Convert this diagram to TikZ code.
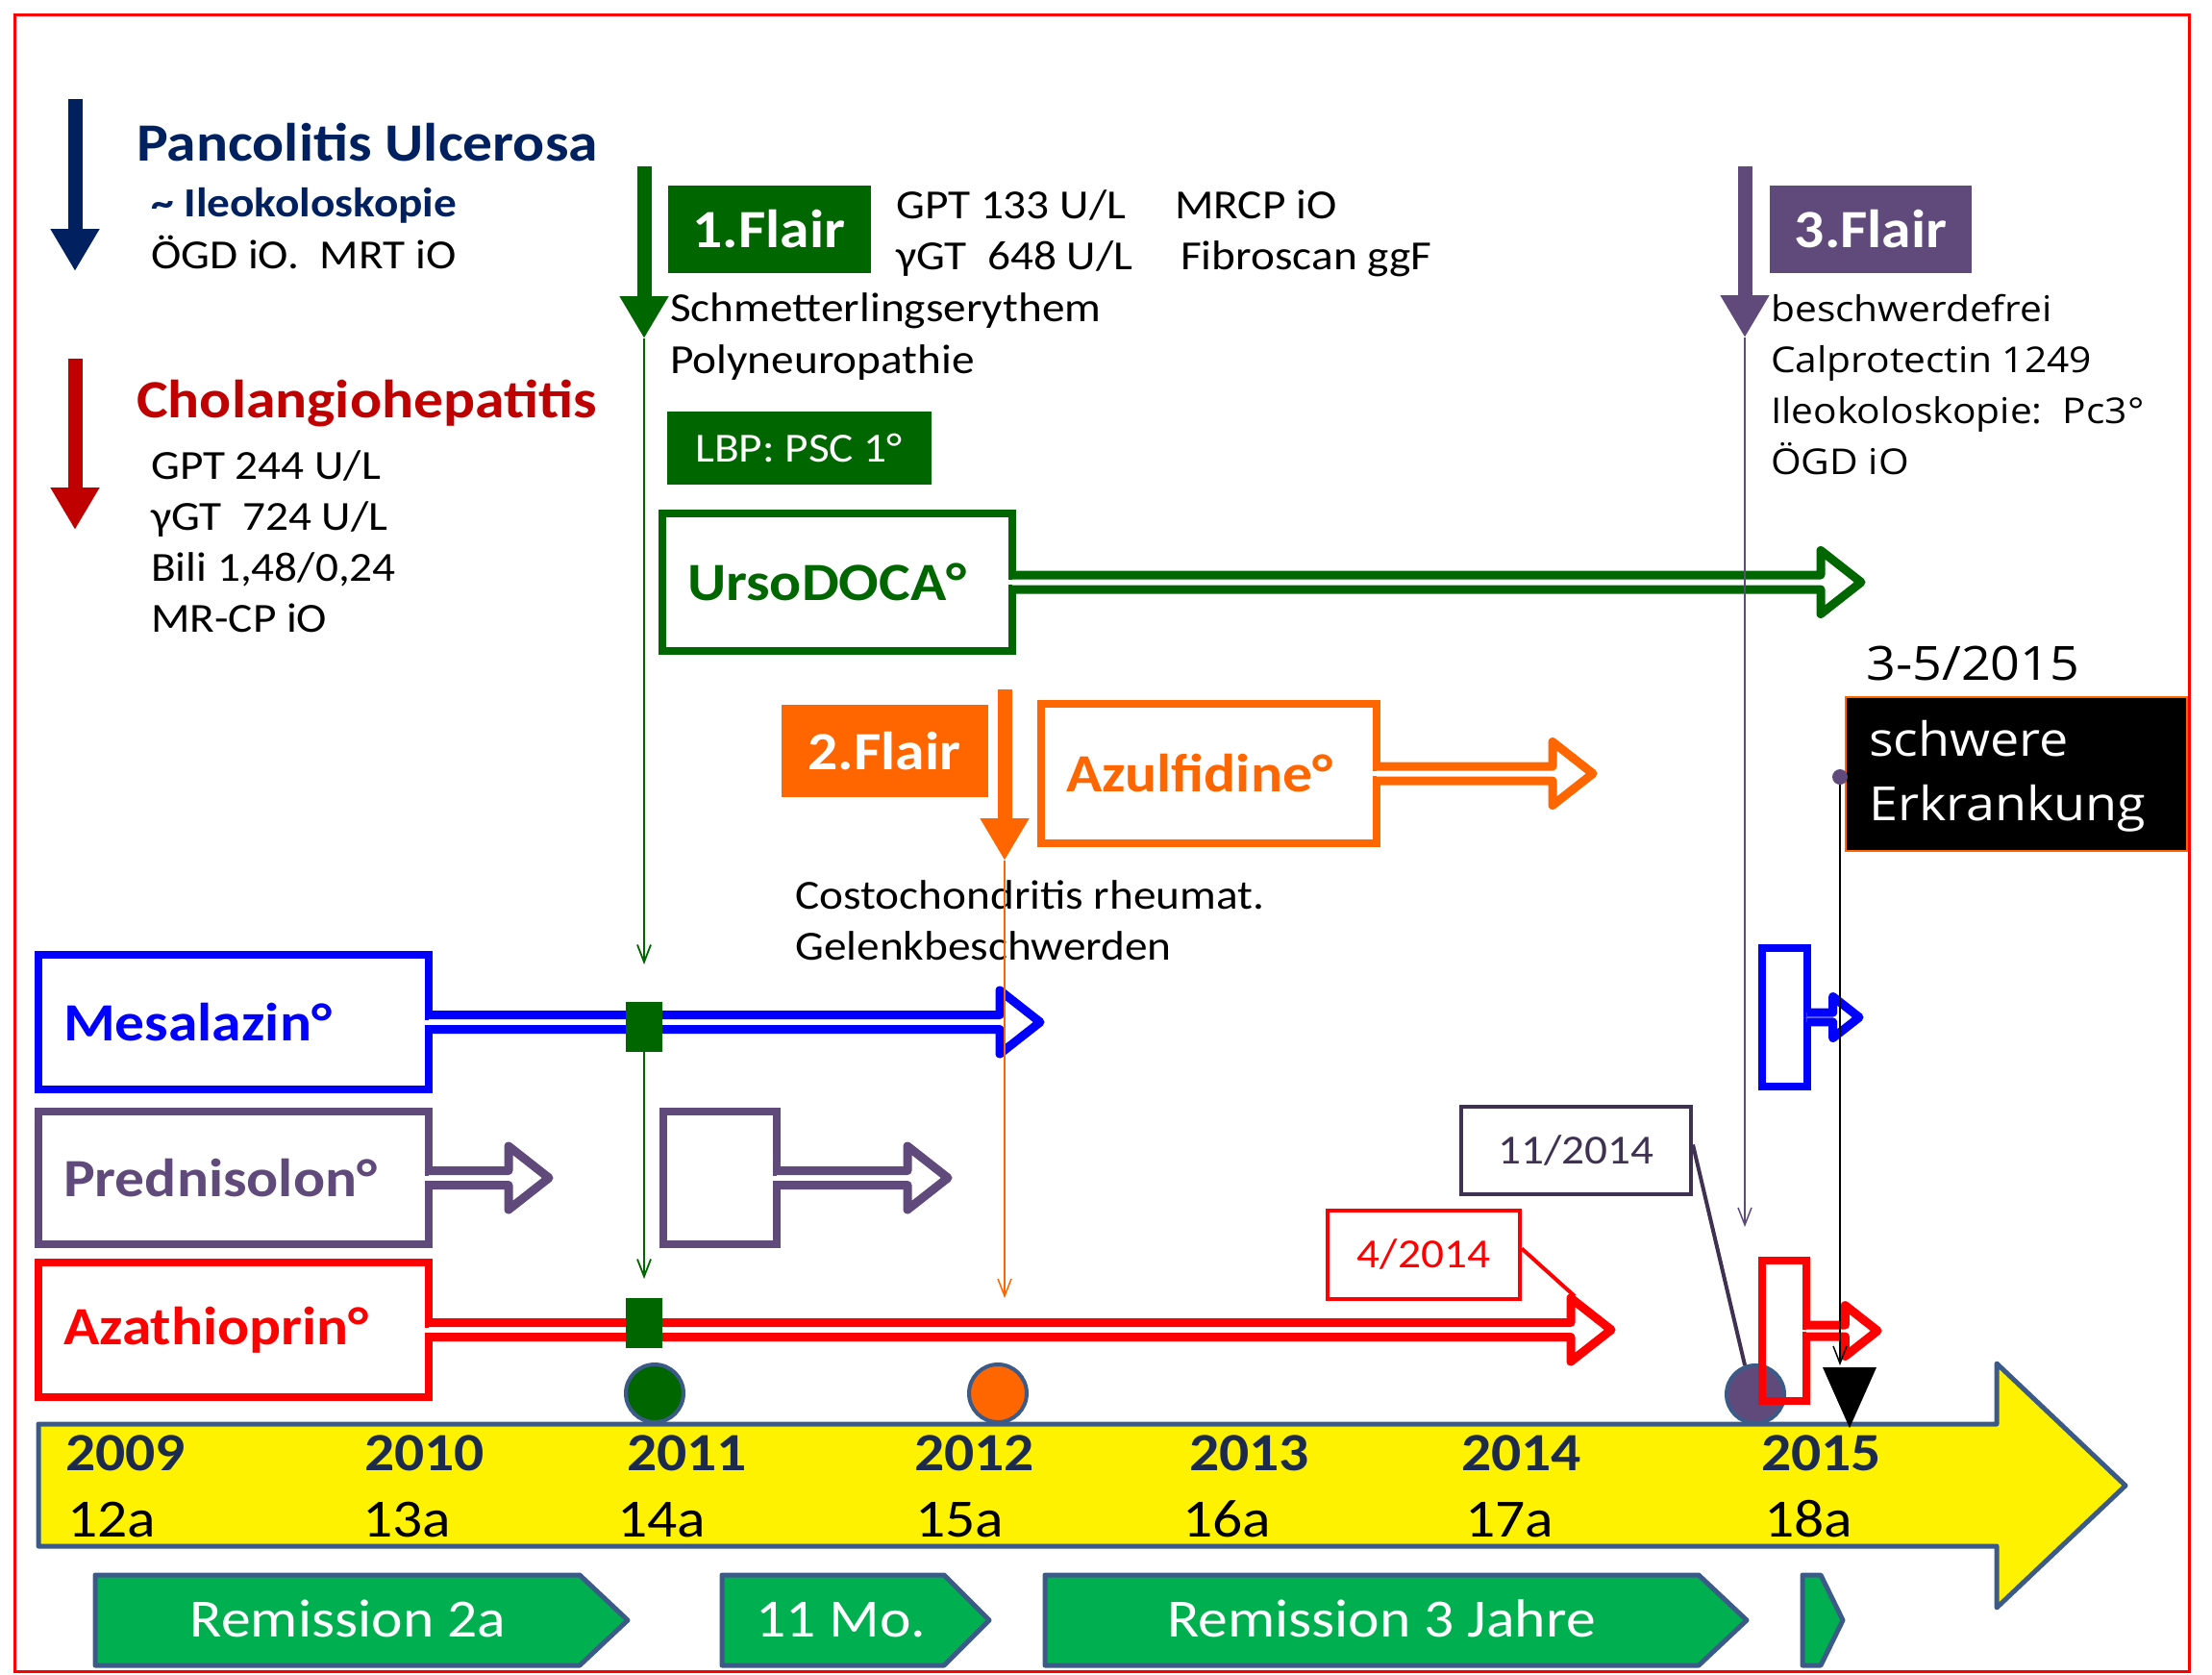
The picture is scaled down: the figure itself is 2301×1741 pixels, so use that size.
\documentclass[tikz,border=0pt]{standalone}
\usepackage{fontspec}
\setmainfont[FakeStretch=1.1]{Carlito}
\newfontfamily\widefont[FakeStretch=1.1]{Open Sans}
\usetikzlibrary{arrows.meta,calc}

\definecolor{navy}{HTML}{002060}
\definecolor{darkred}{HTML}{C00000}
\definecolor{flairgreen}{HTML}{006600}
\definecolor{flairorange}{HTML}{FF6600}
\definecolor{flairpurple}{HTML}{604A7B}
\definecolor{datepurple}{HTML}{3F3151}
\definecolor{remigreen}{HTML}{00B050}
\definecolor{steel}{HTML}{3C5A88}
\definecolor{yearblue}{HTML}{1C2B4B}

\newcommand{\txtS}{\fontsize{43}{54}\selectfont}
\newcommand{\txtL}{\fontsize{56}{66}\selectfont}
\newcommand{\txtW}{\widefont\fontsize{37}{53}\selectfont}

% hollow arrow leaving a drug box: colour, box, x of tip, size factor
\newcommand{\drugarrow}[4]{%
  \draw[#1,line width=9pt,fill=white,line join=round]
    let \p1=(#2.east), \n1={7.5*#4}, \n2={33*#4}, \n3={#3-42*#4} in
    (\x1,\y1+\n1) -- (\n3,\y1+\n1) -- (\n3,\y1+\n2) -- (#3,\y1)
    -- (\n3,\y1-\n2) -- (\n3,\y1-\n1) -- (\x1,\y1-\n1);
  \fill[white] let \p1=(#2.east), \n1={max(7.5*#4-5,0)} in
    (\x1-5pt,\y1-\n1) rectangle (\x1+1pt,\y1+\n1);}

\begin{document}
\begin{tikzpicture}[x=1pt,y=-1pt,
  txt/.style={anchor=base west,inner sep=0pt,font=\txtS},
  wide/.style={anchor=base west,inner sep=0pt,font=\txtW},
  fat/.style={line width=15pt,-{Triangle[width=48pt,length=44pt]}},
  tracer/.style={line width=1.8pt,-{Straight Barb[length=18pt,width=14pt]}},
  flair/.style={fill=#1,text=white,font=\txtL\bfseries,minimum height=91pt,inner sep=0pt},
  drug/.style={draw=#1,text=#1,line width=8pt,outer sep=0pt,inner xsep=26pt,inner ysep=0pt,
    font=\txtL\bfseries,align=left,minimum height=140pt},
  datebox/.style={draw=#1,text=#1,font=\txtS,line width=4pt,minimum height=92pt,minimum width=200pt},
  sq/.style={fill=flairgreen,minimum width=38pt,minimum height=52pt,inner sep=0pt},
  dot/.style={circle,fill=#1,draw=steel,line width=4pt,minimum size=60pt,inner sep=0pt}]
\useasboundingbox (0,0) rectangle (2301,1741);

% time axis
\draw[fill=yellow,draw=steel,line width=5pt,line join=round]
  (40,1481) -- (2077,1481) -- (2077,1418) -- (2211,1545) -- (2077,1672) -- (2077,1608) -- (40,1608) -- cycle;
\foreach \yr/\xa/\ag/\xb in {2009/68/12a/70, 2010/379/13a/377, 2011/652/14a/642, 2012/951/15a/952,
    2013/1237/16a/1230, 2014/1520/17a/1524, 2015/1832/18a/1835}{
  \node[txt,font=\txtL\bfseries,text=yearblue] (y\yr) at (\xa,1529) {\yr};
  \node[txt,font=\txtL] (a\yr) at (\xb,1598) {\ag};
}
\foreach \a/\b/\c/\xt/\t [count=\i] in {99/603/653/362/Remission 2a, 751/982/1029/875/11 Mo.,
    1087/1767/1817/1437/Remission 3 Jahre, 1875/1894/1917/1896/{}}{
  \draw[fill=remigreen,draw=steel,line width=5pt,line join=round]
    (\a,1638) -- (\b,1638) -- (\c,1685) -- (\b,1732) -- (\a,1732) -- cycle;
  \node[anchor=base,inner sep=0pt,font=\txtL,text=white] (rem\i) at (\xt,1702) {\t};
}
\node[dot=flairgreen] (m1) at (681,1449) {};
\node[dot=flairorange] (m2) at (1038,1449) {};
\node[dot=flairpurple] (m3) at (1826,1450) {};

% diagnoses
\coordinate (uc0) at (78,103); \coordinate (uc1) at (78,282);
\coordinate (ch0) at (78,373); \coordinate (ch1) at (78,551);
\draw[fat,navy] (uc0) -- (uc1);
\draw[fat,darkred] (ch0) -- (ch1);
\node[txt,font=\txtL\bfseries,text=navy] (pancol) at (142,167) {Pancolitis Ulcerosa};
\node[txt,font=\txtS\bfseries,text=navy] (ileo) at (157,225) {\textasciitilde{} Ileokoloskopie};
\node[txt] (ogd) at (157,279) {ÖGD iO.\ \ MRT iO};
\node[txt,font=\txtL\bfseries,text=darkred] (chol) at (142,434) {Cholangiohepatitis};
\foreach \t [count=\i] in {GPT 244 U/L, γGT\ \ 724 U/L, {Bili 1,48/0,24}, MR-CP iO}
  \node[txt] (lab\i) at (157,{498+53*(\i-1)}) {\t};

% 1. flair
\coordinate (g0) at (670,173); \coordinate (g1) at (670,352);
\coordinate (g2) at (670,1003); \coordinate (g3) at (670,1330);
\draw[fat,flairgreen] (g0) -- (g1);
\node[flair=flairgreen,minimum width=211pt] (flair1) at (800,238) {1.Flair};
\node[txt] (gpt2) at (932,227) {GPT 133 U/L};
\node[txt] (mrcp2) at (1222,227) {MRCP iO};
\node[txt] (ggt2) at (932,280) {γGT\ \ 648 U/L};
\node[txt] (fibro) at (1228,280) {Fibroscan ggF};
\node[txt] (schmett) at (697,334) {Schmetterlingserythem};
\node[txt] (polyn) at (697,388) {Polyneuropathie};
\node[flair=flairgreen,minimum width=275pt,minimum height=76pt,font=\txtS] (lbp) at (831,466) {LBP: PSC 1°};

% 2. flair
\coordinate (o0) at (1045,717); \coordinate (o1) at (1045,895); \coordinate (o2) at (1045,1350);
\draw[fat,flairorange] (o0) -- (o1);
\node[flair=flairorange,minimum width=215pt,minimum height=96pt] (flair2) at (920,781) {2.Flair};
\node[txt] (costo) at (827,945) {Costochondritis rheumat.};
\node[txt] (gelenk) at (827,998) {Gelenkbeschwerden};

% 3. flair
\coordinate (p0) at (1815,173); \coordinate (p1) at (1815,351); \coordinate (p2) at (1815,1276);
\draw[fat,flairpurple] (p0) -- (p1);
\node[flair=flairpurple,minimum width=210pt] (flair3) at (1946,238) {3.Flair};
\foreach \t [count=\i] in {beschwerdefrei, Calprotectin 1249, Ileokoloskopie:\ \ Pc3°, ÖGD iO}
  \node[wide] (befund\i) at (1842,{334+53.3*(\i-1)}) {\t};

% drugs
\node[drug=flairgreen,text width=312pt,minimum height=143pt] (urso) at (871,605.5) {UrsoDOCA°};
\drugarrow{flairgreen}{urso}{1936}{1}
\node[drug=flairorange,text width=297pt,minimum height=145pt] (azul) at (1257.5,804.5) {Azulfidine°};
\drugarrow{flairorange}{azul}{1657}{1}
\node[drug=blue,text width=354pt] (mesa) at (243,1063) {Mesalazin°};
\drugarrow{blue}{mesa}{1082}{1}
\node[drug=flairpurple,text width=354pt,minimum height=138pt] (pred) at (243,1225) {Prednisolon°};
\drugarrow{flairpurple}{pred}{571}{1}
\node[drug=flairpurple,inner xsep=0pt,minimum width=118pt,minimum height=138pt] (pred2) at (749,1225) {};
\drugarrow{flairpurple}{pred2}{986}{1}
\node[drug=red,text width=354pt] (aza) at (243,1383) {Azathioprin°};
\drugarrow{red}{aza}{1676}{1}
\node[drug=blue,inner xsep=0pt,minimum width=47pt,minimum height=144pt] (mesa2) at (1856,1058) {};
\drugarrow{blue}{mesa2}{1934}{0.65}
\node[drug=red,inner xsep=0pt,minimum width=46pt,minimum height=146pt] (aza2) at (1856,1384) {};
\drugarrow{red}{aza2}{1953}{0.8}

% start of therapy and follow-up lines
\node[sq] (sq1) at (670,1068) {};
\node[sq] (sq2) at (670,1376) {};
\draw[tracer,flairgreen] (g1) -- (g2);
\draw[tracer,flairgreen] (sq1.south) -- (g3);
\draw[tracer,flairorange,line width=1.5pt] (o1) -- (o2);
\draw[tracer,flairpurple,line width=1.5pt] (p1) -- (p2);

% dates
\node[datebox=red] (d4) at (1481,1304.5) {4/2014};
\coordinate (azhead) at (1638,1348);
\draw[red,line width=4pt] ([yshift=6pt]d4.east) -- (azhead);
\node[datebox=datepurple,minimum width=239pt,minimum height=91pt] (d11) at (1639.5,1196.5) {11/2014};
\draw[datepurple,line width=4pt] ([yshift=6pt]d11.east) -- (m3.110);

% severe disease
\node[fill=black,draw=flairorange,line width=2pt,minimum width=355pt,minimum height=160pt,
  anchor=north west,inner sep=0pt] (severe) at (1919,724) {};
\node[wide,font=\widefont\fontsize{49}{67}\selectfont] (datesev) at (1941,707) {3-5/2015};
\node[wide,font=\widefont\fontsize{49}{67}\selectfont,text=white] (sev1) at (1944,786) {schwere};
\node[wide,font=\widefont\fontsize{49}{67}\selectfont,text=white] (sev2) at (1944,853) {Erkrankung};
\node[circle,fill=flairpurple,minimum size=16pt,inner sep=0pt] (pin) at (1914,808) {};
\coordinate (k1) at (1914,1420);
\draw[tracer,black,line width=1.5pt] (pin.south) -- (k1);
\fill[black] (1896,1422) -- (1952,1422) -- (1924,1485) -- cycle;

\draw[red,line width=3pt] (15,15) rectangle (2277,1738);
\end{tikzpicture}
\end{document}
